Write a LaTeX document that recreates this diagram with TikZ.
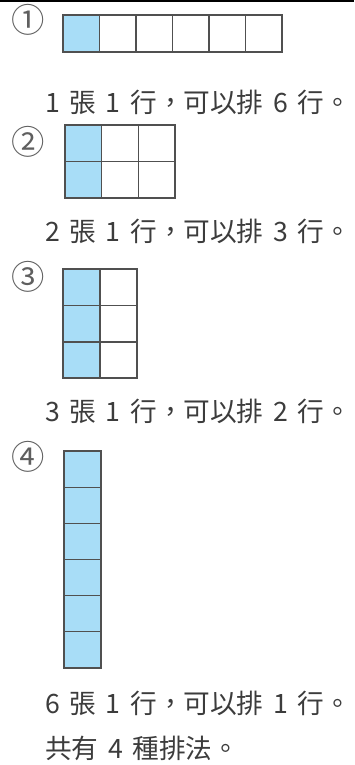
\documentclass[tikz,border=0pt]{standalone}
\usepackage{fontspec}
\setmainfont{Noto Sans CJK TC}
\definecolor{cellblue}{RGB}{168,221,247}
\definecolor{gridgray}{RGB}{80,80,80}
\definecolor{txtgray}{RGB}{60,60,60}
\definecolor{numgray}{RGB}{95,95,95}
\newcommand{\widespace}{\spaceskip=7.2pt\relax}
\tikzset{
  gridline/.style={draw=gridgray,line width=1pt},
  bluecell/.style={fill=cellblue,draw=none},
  linetext/.style={anchor=west,inner sep=0pt,text=txtgray,font=\fontsize{20pt}{24pt}\selectfont,execute at begin node=\widespace},
  numtext/.style={inner sep=0pt,text=numgray,font=\fontsize{25pt}{26pt}\selectfont}
}
\begin{document}
\begin{tikzpicture}[x=0.75pt,y=0.75pt,yscale=-1,xscale=1]
\useasboundingbox (0,0) rectangle (354,765);

%Straight Lines [top rule]
\draw [line width=1.2pt]   (0,1) -- (354,1) ;

%Shape: Grid 1 x 6
\fill [bluecell] (63,15) rectangle (99.5,52) ;
\draw [gridline] (63,15) rectangle (282,52) ;
\draw [gridline] (99.5,15) -- (99.5,52) (136,15) -- (136,52) (172.5,15) -- (172.5,52) (209,15) -- (209,52) (245.5,15) -- (245.5,52) ;

%Shape: Grid 2 x 3
\fill [bluecell] (65,125) rectangle (101.5,198) ;
\draw [gridline] (65,125) rectangle (175,198) ;
\draw [gridline] (101.5,125) -- (101.5,198) (138.5,125) -- (138.5,198) (65,161.5) -- (175,161.5) ;

%Shape: Grid 3 x 2
\fill [bluecell] (63,269) rectangle (100,378) ;
\draw [gridline] (63,269) rectangle (137,378) ;
\draw [gridline] (100,269) -- (100,378) (63,305.5) -- (137,305.5) (63,342) -- (137,342) ;

%Shape: Grid 6 x 1
\fill [bluecell] (64,451) rectangle (101,668) ;
\draw [gridline] (64,451) rectangle (101,668) ;
\draw [gridline] (64,487.2) -- (101,487.2) (64,523.3) -- (101,523.3) (64,559.5) -- (101,559.5) (64,595.7) -- (101,595.7) (64,631.8) -- (101,631.8) ;

% Text Node
\node [numtext] (n1) at (28,20) {①};
% Text Node
\node [numtext] (n2) at (28,142) {②};
% Text Node
\node [numtext] (n3) at (28,277) {③};
% Text Node
\node [numtext] (n4) at (28,457) {④};

% Text Node
\node [linetext] (t1) at (45,102) {1 張 1 行，可以排 6 行。};
% Text Node
\node [linetext] (t2) at (45,231) {2 張 1 行，可以排 3 行。};
% Text Node
\node [linetext] (t3) at (45,411) {3 張 1 行，可以排 2 行。};
% Text Node
\node [linetext] (t4) at (45,703) {6 張 1 行，可以排 1 行。};
% Text Node
\node [linetext] (t5) at (45,748) {共有 4 種排法。};

\end{tikzpicture}
\end{document}
